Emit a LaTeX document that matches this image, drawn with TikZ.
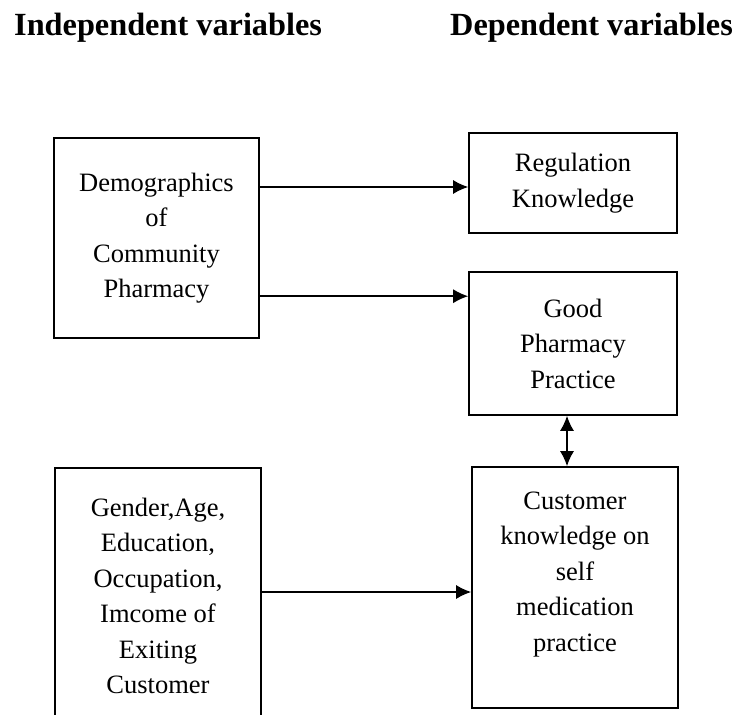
\documentclass[tikz,border=0pt]{standalone}
\usepackage{fontspec}
\setmainfont{Liberation Serif}
\usetikzlibrary{arrows.meta}
\tikzset{
  varbox/.style={draw, line width=1.6pt, align=center, inner sep=0pt, font=\fontsize{26.5}{35.5}\selectfont},
  vartext/.style={align=center, inner sep=0pt, font=\fontsize{26.5}{35.5}\selectfont},
  heading/.style={anchor=base west, inner sep=0pt, font=\fontsize{32.3}{32.3}\selectfont\bfseries},
  flow/.style={line width=1.5pt, -{Latex[length=15pt,width=14pt]}},
  twoway/.style={line width=1.5pt, {Latex[length=15pt,width=14pt]}-{Latex[length=15pt,width=14pt]}},
}
\begin{document}
\begin{tikzpicture}[x=1pt,y=-1pt]
                    \useasboundingbox (0,0) rectangle (737,715);
                    \clip (0,0) rectangle (737,715);

                    % Headings
                    \node [heading] (indep) at (14,35) {Independent variables};%
                    \node [heading] (dep) at (450,35) {Dependent variables};%

                    % Independent boxes
                    \node [varbox, minimum width=205, minimum height=200] (demo) at (156.5,238) {Demographics\\of\\Community\\Pharmacy};%
                    \node [varbox, minimum width=206, minimum height=256] (gender) at (158,596) {Gender,Age,\\Education,\\Occupation,\\Imcome of\\Exiting\\Customer};%

                    % Dependent boxes
                    \node [varbox, minimum width=208, minimum height=100] (reg) at (573,183) {Regulation\\Knowledge};%
                    \node [varbox, minimum width=208, minimum height=143] (gpp) at (573,343.5) {Good\\Pharmacy\\Practice};%
                    \node [varbox, minimum width=206, minimum height=241] (cust) at (575,587.5) {};%
                    \node [vartext] (custtext) at ([yshift=13pt]cust.center) {Customer\\knowledge on\\self\\medication\\practice};%

                    % Drawing arrows
                    \coordinate (regin) at ([yshift=-4pt]reg.west);%
                    \coordinate (gppin) at ([yshift=-25pt]gpp.north west);%
                    \coordinate (custin) at ([yshift=-4.5pt]cust.west);%
                    \draw [flow] (demo.east |- regin) -- (regin);%
                    \draw [flow] (demo.east |- gppin) -- (gppin);%
                    \draw [flow] (gender.east |- custin) -- (custin);%

                    % Drawing link between gpp and cust
                    \coordinate (gppout) at ([xshift=-6pt]gpp.south);%
                    \draw [twoway] (gppout) -- (gppout |- cust.north);%
\end{tikzpicture}
\end{document}
